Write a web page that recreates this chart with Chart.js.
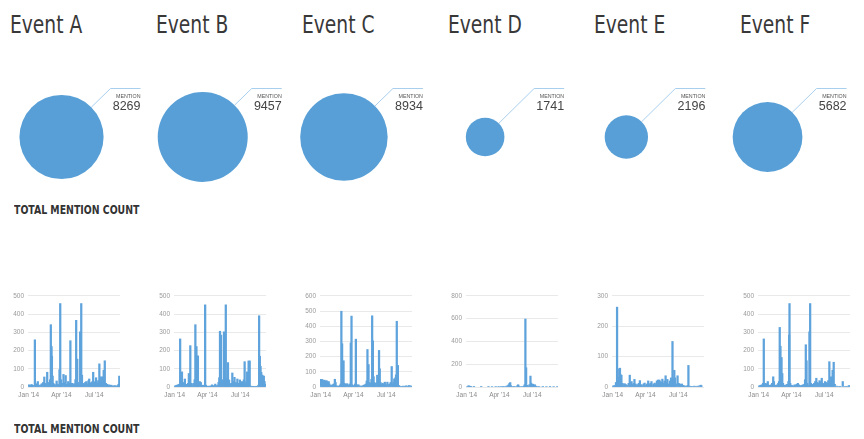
<!DOCTYPE html>
<html>
<head>
<meta charset="utf-8">
<script src="https://cdn.jsdelivr.net/npm/chart.js@4/dist/chart.umd.min.js"></script>
<style>
  body { margin: 0; background: #fff; width: 864px; height: 439px; position: relative; overflow: hidden; }
  .title { position: absolute; top: 12px; font: 25px/25px "DejaVu Sans Condensed", sans-serif; color: #383838; white-space: nowrap; transform: scaleX(0.83); transform-origin: 0 0; }
  .heading { position: absolute; left: 14px; font: bold 13px/13px "DejaVu Sans Condensed", sans-serif; color: #333; white-space: nowrap; transform: scaleX(0.8); transform-origin: 0 0; }
  canvas { position: absolute; }
</style>
</head>
<body>
<div class="heading" style="top:203px">TOTAL MENTION COUNT</div>
<div class="heading" style="top:422px">TOTAL MENTION COUNT</div>
<canvas id="bubbles" width="864" height="140" style="left:0;top:67px"></canvas>
<script>
const events = ['Event A', 'Event B', 'Event C', 'Event D', 'Event E', 'Event F'];
const mentions = [8269, 9457, 8934, 1741, 2196, 5682];

// y axis tops and steps of the small charts
const yMax = [500, 500, 600, 800, 300, 500];
const yStep = [100, 100, 100, 200, 100, 100];

// days since 1 Jan 2014
const firstDay = -2, lastDay = 252;
const monthDays = [0, 90, 181];
const monthLabels = ["Jan '14", "Apr '14", "Jul '14"];

// [day, mentions]
const eventA = [[1,12],[3,10],[5,8],[8,14],[10,6],[12,9],[17,259],[19,12],[22,18],[25,30],[27,10],[30,8],[33,12],[36,18],[40,25],[43,55],[45,20],[48,15],[51,81],[53,25],[56,12],[59,40],[61,342],[63,222],[64,169],[66,60],[68,20],[71,15],[74,10],[77,33],[80,15],[83,10],[85,95],[87,458],[89,40],[92,20],[96,69],[99,25],[102,63],[105,15],[109,30],[112,20],[115,254],[117,18],[120,20],[123,12],[126,18],[129,40],[131,366],[134,153],[136,25],[139,15],[142,303],[145,458],[147,65],[150,20],[153,15],[156,25],[159,30],[162,18],[165,35],[167,44],[170,20],[173,25],[176,30],[178,81],[181,25],[184,30],[186,51],[189,20],[192,35],[195,127],[197,30],[200,56],[203,25],[205,56],[207,92],[210,144],[213,20],[216,15],[219,10],[222,12],[225,8],[228,10],[231,6],[234,5],[237,8],[240,6],[243,5],[246,8],[248,15],[250,60],[251,12]];
const eventB = [[1,5],[3,8],[6,10],[9,12],[12,15],[15,264],[17,30],[20,83],[23,25],[26,20],[28,44],[31,15],[34,10],[37,20],[39,74],[41,30],[43,227],[46,20],[49,12],[52,20],[55,40],[57,342],[60,222],[62,60],[64,171],[66,20],[69,30],[72,25],[75,10],[78,8],[81,10],[84,451],[86,10],[89,5],[92,3],[95,5],[98,4],[100,6],[103,12],[106,5],[109,8],[112,16],[115,6],[118,10],[121,25],[123,51],[125,306],[128,285],[130,30],[133,40],[136,303],[138,60],[141,451],[143,50],[145,40],[147,134],[150,39],[153,15],[156,20],[159,77],[162,30],[165,53],[168,25],[171,20],[173,44],[176,20],[178,15],[180,39],[183,20],[186,30],[189,25],[191,40],[193,139],[196,20],[198,30],[200,83],[202,50],[204,143],[207,143],[210,5],[213,3],[216,4],[219,3],[222,3],[225,4],[228,3],[231,10],[233,391],[235,169],[237,113],[239,80],[242,65],[244,40],[246,60],[248,30],[250,15]];
const eventC = [[0,51],[2,46],[4,50],[6,42],[8,40],[10,45],[12,40],[14,38],[16,42],[18,36],[20,30],[22,36],[24,20],[27,10],[30,12],[33,15],[36,20],[39,51],[41,30],[44,8],[47,5],[50,6],[53,10],[55,20],[57,499],[59,285],[61,40],[63,173],[65,25],[67,20],[70,18],[73,22],[76,15],[79,10],[81,20],[83,290],[85,467],[87,15],[90,8],[93,10],[95,20],[97,315],[99,15],[101,10],[104,15],[107,8],[110,5],[113,6],[116,8],[119,12],[122,15],[125,20],[127,40],[129,247],[132,148],[134,30],[137,25],[140,50],[142,469],[144,304],[146,68],[148,30],[150,20],[153,25],[156,78],[159,30],[161,241],[163,120],[165,30],[168,20],[171,25],[174,18],[177,32],[180,15],[184,32],[187,15],[190,20],[193,30],[196,135],[199,20],[201,30],[203,53],[206,60],[208,80],[210,433],[213,142],[216,10],[220,5],[224,4],[228,6],[232,5],[236,8],[240,6],[244,10],[248,8],[252,5]];
const eventD = [[2,5],[5,11],[7,8],[9,6],[12,3],[20,2],[40,2],[60,3],[70,4],[80,5],[88,3],[95,4],[100,3],[105,5],[110,8],[113,11],[116,20],[118,31],[120,39],[122,12],[126,5],[130,3],[135,5],[140,12],[142,20],[144,8],[150,5],[155,4],[158,8],[160,20],[162,597],[164,169],[166,15],[170,8],[173,20],[176,96],[178,34],[180,20],[183,25],[186,15],[188,20],[191,8],[195,5],[200,4],[210,3],[220,5],[230,3],[240,4],[250,3]];
const eventE = [[0,3],[3,4],[6,5],[9,15],[12,263],[14,30],[16,32],[18,60],[20,62],[22,40],[24,39],[27,12],[30,8],[33,11],[36,8],[40,6],[44,12],[47,39],[49,15],[52,18],[55,8],[58,12],[60,25],[63,10],[66,6],[69,8],[72,12],[75,21],[78,8],[81,5],[85,10],[88,13],[91,6],[95,10],[98,20],[101,8],[104,12],[107,18],[110,6],[113,10],[116,13],[119,8],[122,20],[125,23],[127,22],[129,23],[131,18],[134,15],[137,26],[140,12],[143,20],[146,37],[148,15],[151,25],[154,10],[158,20],[161,30],[163,18],[165,150],[167,25],[170,55],[172,30],[175,10],[179,37],[182,12],[185,10],[188,8],[191,10],[194,5],[197,4],[200,3],[204,3],[207,5],[209,71],[212,3],[216,2],[220,2],[225,3],[230,2],[235,3],[240,4],[243,6],[245,4]];
const eventF = [[0,5],[3,8],[6,10],[9,12],[12,20],[14,264],[16,15],[19,20],[22,15],[25,30],[28,10],[31,8],[34,12],[37,20],[40,56],[42,30],[45,10],[48,8],[51,12],[54,20],[56,30],[58,327],[60,224],[63,162],[65,74],[67,20],[70,10],[73,8],[76,12],[79,15],[82,30],[84,285],[85,458],[87,20],[90,10],[93,8],[96,5],[99,12],[102,10],[105,15],[108,20],[111,12],[114,5],[117,8],[120,10],[123,12],[126,15],[128,40],[130,232],[132,144],[134,20],[137,10],[140,303],[142,458],[144,20],[147,15],[150,10],[153,20],[156,30],[159,48],[162,25],[165,20],[168,35],[171,30],[174,48],[177,20],[180,15],[183,30],[186,25],[189,20],[192,35],[195,139],[198,30],[200,56],[202,40],[204,92],[207,136],[210,15],[215,5],[220,3],[225,4],[232,30],[238,3],[243,4],[249,8],[251,5]];

const series = [eventA, eventB, eventC, eventD, eventE, eventF];
const blue = '#579fd6';
const sans = '"Liberation Sans", "DejaVu Sans", sans-serif';

// one category per day of the period
let dayLabels = [];
for (let d = firstDay; d <= lastDay; d++) dayLabels.push(d);

// titles
events.forEach((name, i) => {
    let div = document.createElement('div');
    div.className = 'title';
    div.style.left = (10 + 146 * i) + 'px';
    div.innerText = name;
    document.body.appendChild(div);
});

// callout line + label next to each bubble
const callout = {
    id: 'callout',
    afterDatasetsDraw(chart) {
        const ctx = chart.ctx;
        chart.getDatasetMeta(0).data.forEach((pt, i) => {
            const r = pt.options.radius;
            const ex = pt.x + r * Math.SQRT1_2, ey = pt.y - r * Math.SQRT1_2;
            const ky = 21, kx = ex + (ey - ky);
            ctx.save();
            ctx.strokeStyle = '#a9cfee';
            ctx.lineWidth = 1;
            ctx.beginPath();
            ctx.moveTo(ex, ey);
            ctx.lineTo(kx, ky + 0.5);
            ctx.lineTo(kx + 30, ky + 0.5);
            ctx.stroke();
            ctx.textAlign = 'right';
            ctx.fillStyle = '#555';
            ctx.font = '5.3px ' + sans;
            ctx.fillText('MENTION', kx + 30, ky + 10);
            ctx.fillStyle = '#444';
            ctx.font = '12.5px ' + sans;
            ctx.fillText(String(mentions[i]), kx + 30, ky + 22);
            ctx.restore();
        });
    }
};

const maxMention = Math.max(...mentions);
new Chart(document.getElementById('bubbles').getContext('2d'), {
    type: 'bubble',
    data: {
        datasets: [{
            data: mentions.map((v, i) => ({x: i, y: 0, r: 45 * Math.sqrt(v / maxMention)})),
            backgroundColor: blue,
            borderWidth: 0,
            hoverRadius: 0,
            clip: false,
        }]
    },
    options: {
        responsive: false,
        animation: false,
        events: [],
        layout: {padding: 0, autoPadding: false},
        plugins: {legend: {display: false}, tooltip: {enabled: false}},
        scales: {
            x: {type: 'linear', display: false, min: -0.4356, max: 5.683},
            y: {type: 'linear', display: false, min: -1, max: 1},
        }
    },
    plugins: [callout]
});

// small mention count charts
series.forEach((pts, i) => {
    let cv = document.createElement('canvas');
    cv.width = 118;
    cv.height = 114;
    cv.style.left = (6 + 146 * i) + 'px';
    cv.style.top = '288px';
    document.body.appendChild(cv);

    let values = dayLabels.map(() => null);
    pts.forEach(p => { values[p[0] - firstDay] = p[1]; });

    new Chart(cv.getContext('2d'), {
        type: 'bar',
        data: {
            labels: dayLabels,
            datasets: [{
                data: values,
                backgroundColor: '#5fa3dc',
                barThickness: 1.6,
            }]
        },
        options: {
            responsive: false,
            animation: false,
            events: [],
            layout: {padding: {top: 5, right: 4}},
            plugins: {legend: {display: false}, tooltip: {enabled: false}},
            scales: {
                x: {
                    offset: false,
                    grid: {display: false, drawTicks: false},
                    border: {display: false},
                    afterFit: s => { s.height = 15; },
                    ticks: {
                        autoSkip: false,
                        maxRotation: 0,
                        padding: 4,
                        color: '#8a8a8a',
                        font: {size: 6.5, family: sans},
                        callback: (v, idx) => {
                            const k = monthDays.indexOf(dayLabels[idx]);
                            return k >= 0 ? monthLabels[k] : null;
                        },
                    }
                },
                y: {
                    min: 0,
                    max: yMax[i],
                    afterFit: s => { s.width = 22; },
                    grid: {color: '#e9e9e9', drawTicks: false},
                    border: {display: false},
                    ticks: {
                        stepSize: yStep[i],
                        padding: 4,
                        color: '#9a9a9a',
                        font: {size: 6.5, family: sans},
                    }
                }
            }
        }
    });
});
</script>
</body>
</html>
